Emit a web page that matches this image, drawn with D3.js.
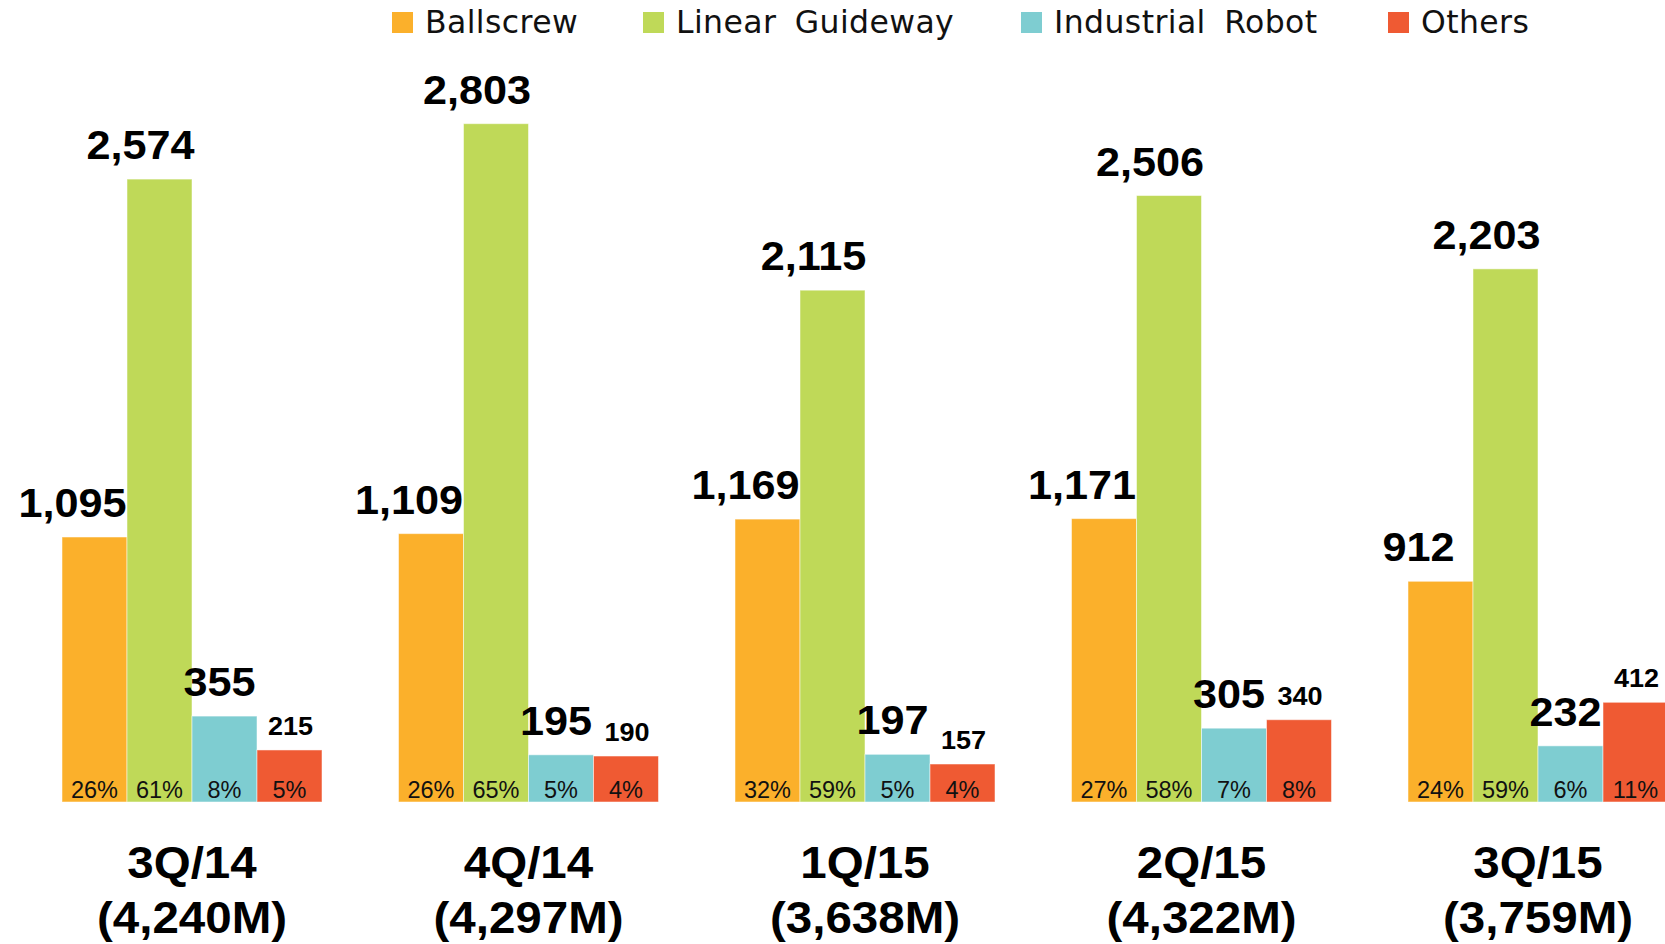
<!DOCTYPE html>
<html>
<head>
<meta charset="utf-8">
<script src="https://cdn.jsdelivr.net/npm/d3@7"></script>
<style>
  body { margin: 0; background: #fff; }
  svg { display: block; }
</style>
</head>
<body>
<div id="wrapper"></div>
<script>
// data
const quarters = ['3Q/14', '4Q/14', '1Q/15', '2Q/15', '3Q/15'];
const totals = ['(4,240M)', '(4,297M)', '(3,638M)', '(4,322M)', '(3,759M)'];
const seriesNames = ['Ballscrew', 'Linear Guideway', 'Industrial Robot', 'Others'];
const ballscrew = [1095, 1109, 1169, 1171, 912];
const linearGuideway = [2574, 2803, 2115, 2506, 2203];
const industrialRobot = [355, 195, 197, 305, 232];
const others = [215, 190, 157, 340, 412];
const ballscrewPct = [26, 26, 32, 27, 24];
const linearPct = [61, 65, 59, 58, 59];
const robotPct = [8, 5, 5, 7, 6];
const othersPct = [5, 4, 4, 8, 11];

const colors = ['#FBB02B', '#BFD958', '#7ECDD1', '#EF5A33'];

function drawChart() {
  const width = 1665;
  const height = 944;
  const baseline = 802;

  const values = [ballscrew, linearGuideway, industrialRobot, others];
  const pcts = [ballscrewPct, linearPct, robotPct, othersPct];

  // flatten into one row per bar
  const rows = [];
  quarters.forEach((q, i) => {
    seriesNames.forEach((s, j) => {
      rows.push({ quarter: q, series: s, idx: j, value: values[j][i], pct: pcts[j][i] });
    });
  });

  const svg = d3.select('#wrapper')
    .append('svg')
    .attr('width', width)
    .attr('height', height);

  svg.append('rect').attr('width', width).attr('height', height).attr('fill', '#fff');

  // scales
  const x0 = d3.scaleBand()
    .domain(quarters)
    .range([62, 1668])
    .paddingInner(76.5 / 336.5)
    .paddingOuter(0);

  const x1 = d3.scaleBand()
    .domain(seriesNames)
    .range([0, x0.bandwidth()]);

  const y = d3.scaleLinear()
    .domain([0, 3000])
    .range([baseline, baseline - 726]);

  const groups = svg.append('g')
    .selectAll('g')
    .data(quarters)
    .join('g')
    .attr('transform', (d) => `translate(${x0(d)},0)`);

  const bars = groups.selectAll('g.bar')
    .data((q) => rows.filter((r) => r.quarter === q))
    .join('g')
    .attr('class', 'bar');

  bars.append('rect')
    .attr('x', (d) => x1(d.series))
    .attr('y', (d) => y(d.value))
    .attr('width', x1.bandwidth())
    .attr('height', (d) => baseline - y(d.value))
    .attr('fill', (d) => colors[d.idx])
    .attr('stroke', '#fff')
    .attr('stroke-opacity', 0.5)
    .attr('stroke-width', 1);

  // value labels above the bars (shifted left like in the slide)
  const labelShift = [-22, -19, -5, 1];
  bars.append('text')
    .attr('transform', (d) => {
      const cx = x1(d.series) + x1.bandwidth() / 2 + labelShift[d.idx];
      const cy = y(d.value) - (d.idx === 3 ? 15 : 20);
      return `translate(${cx},${cy}) scale(1.08,1)`;
    })
    .attr('text-anchor', 'middle')
    .style('font-family', '"Liberation Sans", Arial, sans-serif')
    .style('font-weight', 'bold')
    .style('font-size', (d) => (d.idx === 3 ? '25px' : '40px'))
    .attr('fill', '#000')
    .text((d) => d3.format(',')(d.value));

  // share labels inside the bars
  bars.append('text')
    .attr('x', (d) => x1(d.series) + x1.bandwidth() / 2)
    .attr('y', baseline - 4)
    .attr('text-anchor', 'middle')
    .style('font-family', '"Liberation Sans", Arial, sans-serif')
    .style('font-size', '23.5px')
    .attr('fill', '#111')
    .text((d) => d.pct + '%');

  // category labels
  const catLabels = groups.append('g')
    .style('font-family', '"Liberation Sans", Arial, sans-serif')
    .style('font-weight', 'bold')
    .style('font-size', '44px')
    .attr('fill', '#000')
    .attr('text-anchor', 'middle');

  catLabels.append('text')
    .attr('transform', `translate(${x0.bandwidth() / 2},878) scale(1.08,1)`)
    .text((d) => d);

  catLabels.append('text')
    .attr('transform', `translate(${x0.bandwidth() / 2},933) scale(1.08,1)`)
    .text((d, i) => totals[i]);

  // legend
  const legendX = [392, 643, 1021, 1388];
  const legend = svg.append('g')
    .selectAll('g')
    .data(seriesNames)
    .join('g')
    .attr('transform', (d, i) => `translate(${legendX[i]},0)`);

  legend.append('rect')
    .attr('x', 0)
    .attr('y', 12)
    .attr('width', 21)
    .attr('height', 21)
    .attr('fill', (d, i) => colors[i]);

  legend.append('text')
    .attr('x', 33)
    .attr('y', 33)
    .style('font-family', '"DejaVu Sans", Verdana, sans-serif')
    .style('font-size', '31.5px')
    .style('word-spacing', '8px')
    .style('letter-spacing', '0.4px')
    .attr('fill', '#111')
    .text((d) => d);
}

drawChart();
</script>
</body>
</html>
